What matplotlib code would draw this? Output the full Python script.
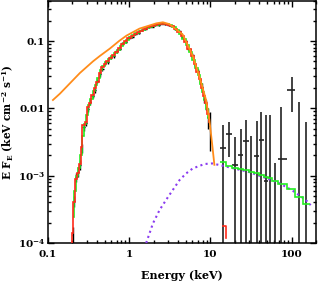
import numpy as np
import matplotlib
matplotlib.use('Agg')
import matplotlib.pyplot as plt
from matplotlib.ticker import FixedLocator, FixedFormatter, LogLocator, NullFormatter

plt.rcParams['font.family'] = ['DejaVu Serif']
plt.rcParams['font.weight'] = 'bold'
plt.rcParams['mathtext.fontset'] = 'dejavuserif'
plt.rcParams['mathtext.default'] = 'bf'

# ---------------- soft band (model, red) ----------------
soft_edges = [0.190, 0.196, 0.206, 0.216, 0.228, 0.240, 0.252, 0.266, 0.282, 0.300, 0.320,
              0.342, 0.366, 0.392, 0.420, 0.450, 0.485, 0.525, 0.57, 0.62, 0.675,
              0.735, 0.80, 0.87, 0.95, 1.04, 1.14, 1.25, 1.37, 1.50, 1.65,
              1.82, 2.0, 2.2, 2.42, 2.66, 2.93, 3.22, 3.54, 3.9, 4.3,
              4.74, 5.2, 5.7, 6.2, 6.7, 7.2, 7.7, 8.2, 8.7, 9.2, 9.6, 10.0]
red_model = [5e-5, 1.4e-4, 4.0e-4, 9.0e-4, 1.1e-3, 1.5e-3, 2.7e-3, 5.6e-3, 6.3e-3, 1.05e-2,
             1.2e-2, 1.6e-2, 2.0e-2, 2.5e-2, 3.3e-2, 4.1e-2, 4.5e-2, 5.1e-2, 5.6e-2, 6.2e-2,
             6.9e-2, 7.9e-2, 9.0e-2, 0.099, 0.110, 0.118, 0.126, 0.135, 0.143, 0.151,
             0.159, 0.166, 0.172, 0.177, 0.180, 0.180, 0.175, 0.166, 0.153, 0.137,
             0.118, 0.097, 0.077, 0.060, 0.046, 0.035, 0.027, 0.020, 0.015, 0.012,
             0.0082, 0.0062]

# soft band data (black crosses), one per model bin (except first)
soft_data = [1.3e-4, 4.2e-4, 9.5e-4, 1.15e-3, 1.45e-3, 2.6e-3, 5.2e-3, 6.0e-3, 9.8e-3,
             1.25e-2, 1.55e-2, 1.85e-2, 2.55e-2, 3.2e-2, 3.9e-2, 4.7e-2, 4.9e-2, 5.7e-2,
             6.0e-2, 7.1e-2, 7.7e-2, 9.2e-2, 0.097, 0.112, 0.116, 0.128, 0.133, 0.145,
             0.149, 0.161, 0.164, 0.174, 0.175, 0.182, 0.177, 0.172, 0.168, 0.150,
             0.139, 0.115, 0.099, 0.075, 0.062, 0.044, 0.036, 0.026, 0.021, 0.014,
             0.0115, 0.0075, 0.0055]
soft_err = [4e-5, 8e-5, 1.5e-4, 2e-4, 2.5e-4, 4e-4, 6e-4, 6e-4, 1.0e-3,
            1.2e-3, 1.3e-3, 1.5e-3, 2e-3, 2.5e-3, 3e-3, 3e-3, 3e-3, 3.5e-3,
            3.5e-3, 4e-3, 4e-3, 4.5e-3, 5e-3, 5e-3, 5e-3, 5e-3, 5e-3, 5e-3,
            5e-3, 5e-3, 5e-3, 5e-3, 5e-3, 5e-3, 5e-3, 5e-3, 5e-3, 5e-3,
            5e-3, 5e-3, 5e-3, 4e-3, 4e-3, 3e-3, 3e-3, 2.5e-3, 2.5e-3, 2e-3,
            2e-3, 2.5e-3, 3.2e-3]

# second soft model (green), offset binning
green_soft_edges = [0.201, 0.211, 0.222, 0.234, 0.246, 0.259, 0.274, 0.291, 0.310, 0.331,
                    0.354, 0.379, 0.406, 0.435, 0.467, 0.505, 0.547, 0.595, 0.647, 0.705,
                    0.767, 0.835, 0.91, 0.995, 1.09, 1.195, 1.31, 1.435, 1.575, 1.735,
                    1.91, 2.1, 2.31, 2.54, 2.795, 3.075, 3.38, 3.72, 4.1, 4.52,
                    4.97, 5.45, 5.95, 6.45, 6.95, 7.45, 7.95, 8.45, 8.95, 9.4, 9.8]
green_soft = [2.4e-4, 6.0e-4, 1.0e-3, 1.3e-3, 2.0e-3, 3.9e-3, 5.9e-3, 8.1e-3, 1.12e-2, 1.39e-2,
              1.79e-2, 2.24e-2, 2.87e-2, 3.68e-2, 4.3e-2, 4.8e-2, 5.35e-2, 5.9e-2, 6.55e-2, 7.4e-2,
              8.45e-2, 9.45e-2, 0.104, 0.114, 0.122, 0.130, 0.139, 0.147, 0.155, 0.162,
              0.169, 0.175, 0.179, 0.180, 0.178, 0.171, 0.160, 0.145, 0.127, 0.107,
              0.086, 0.068, 0.0525, 0.040, 0.031, 0.0232, 0.0173, 0.0134, 0.0099, 0.0071]

# ---------------- hard band ----------------
hard_edges = [13.2, 15.6, 18.6, 22.0, 25.5, 29.6, 34.4, 39.7, 45.3, 51.0, 58.0,
              68.3, 86.8, 111.5, 137.0, 170.0]
hard_e = [14.2, 17.1, 20.3, 23.8, 27.4, 31.9, 37.0, 42.6, 48.2, 54.0, 62.2,
          75.0, 100.5, 123.6, 152.0]
hard_val = [2.55e-3, 4.15e-3, 1.44e-3, 2.02e-3, 3.3e-3, np.nan, 1.96e-3, 3.38e-3,
            8.3e-4, np.nan, np.nan, 1.75e-3, 1.87e-2, np.nan, np.nan]
hard_hi = [5.65e-3, 6.32e-3, 3.79e-3, 4.92e-3, 6.7e-3, 3.88e-3, 6.55e-3, 8.9e-3,
           7.95e-3, 7.95e-3, 1.56e-3, 1.04e-2, 2.95e-2, 1.25e-2, 6.32e-3]
hard_lo = [1e-6, 1.91e-3, 1e-6, 1e-6, 1e-6, 1e-6, 1e-6, 1e-6,
           1e-6, 1e-6, 1e-6, 1e-6, 8.9e-3, 1e-6, 1e-6]
green_hard = [1.57e-3, 1.40e-3, 1.32e-3, 1.27e-3, 1.21e-3, 1.15e-3, 1.09e-3, 1.03e-3,
              9.7e-4, 9.1e-4, 8.4e-4, 7.4e-4, 6.4e-4, 4.8e-4, 3.75e-4]
red_hard_e = [14.2, 15.4, 15.4]
red_hard_f = [1.78e-4, 1.78e-4, 1.17e-4]

# ---------------- model components ----------------
disk_e = [0.115, 0.14, 0.247, 0.359, 0.435, 0.576, 0.75, 0.924, 1.34, 2.16, 2.6,
          3.13, 4.56, 6.07, 7.3, 8.82, 9.72, 10.6, 11.2]
disk_f = [0.0133, 0.0165, 0.0335, 0.05, 0.06, 0.077, 0.1, 0.12, 0.153, 0.183, 0.19,
          0.178, 0.125, 0.06, 0.03, 0.0135, 0.0068, 0.0027, 0.00145]
pl_e = [1.62, 1.96, 2.37, 3.0, 4.17, 5.03, 6.06, 8.44, 10.5, 13.6, 18.6, 30.0,
        48.7, 70.0, 101.0, 150.0, 172.0]
pl_f = [1.0e-4, 1.95e-4, 3.1e-4, 4.8e-4, 8.6e-4, 1.08e-3, 1.28e-3, 1.49e-3, 1.52e-3,
        1.42e-3, 1.3e-3, 1.13e-3, 9.2e-4, 7.76e-4, 6.1e-4, 4.35e-4, 3.65e-4]

fig = plt.figure(figsize=(3.19, 2.87), dpi=100)
ax = fig.add_axes([48 / 319, 1 - 243 / 287, 268 / 319, 242.5 / 287])
ax.set_xscale('log')
ax.set_yscale('log')
ax.set_xlim(0.1, 200)
ax.set_ylim(1e-4, 0.4)

# soft data
se = np.array(soft_edges)
sc = np.sqrt(se[1:-1] * se[2:])
ax.errorbar(sc, soft_data, yerr=soft_err,
            xerr=[sc - se[1:-1], se[2:] - sc], fmt='none', ecolor='black',
            elinewidth=1.0, capsize=0, zorder=2)

# hard data
he = np.array(hard_edges)
ax.vlines(hard_e, hard_lo, hard_hi, color='#222222', lw=1.2, zorder=2)
ax.hlines(hard_val, he[:-1], he[1:], color='#222222', lw=1.2, zorder=2)

# models
ax.stairs(green_soft, green_soft_edges, baseline=None, color='#22ee22', lw=1.2, zorder=3)
ax.stairs(red_model, soft_edges, baseline=None, color='#ff2a1a', lw=1.2, zorder=4)
ax.stairs(green_hard, hard_edges, baseline=None, color='#22ee22', lw=1.2, zorder=4)
ax.plot(red_hard_e, red_hard_f, color='#ff2a1a', lw=1.2, zorder=4)
ax.plot(disk_e, disk_f, color='#ff8c1a', lw=1.3, zorder=5)
ax.plot(pl_e, pl_f, color='#8a3cf0', lw=1.5, ls=(0, (1, 1.6)), zorder=3)

# ticks
ax.xaxis.set_major_locator(FixedLocator([0.1, 1, 10, 100]))
ax.xaxis.set_major_formatter(FixedFormatter(['0.1', '1', '10', '100']))
ax.xaxis.set_minor_locator(LogLocator(base=10, subs=np.arange(2, 10)))
ax.xaxis.set_minor_formatter(NullFormatter())
ax.yaxis.set_major_locator(FixedLocator([1e-4, 1e-3, 0.01, 0.1]))
ax.yaxis.set_major_formatter(FixedFormatter([r'$10^{-4}$', r'$10^{-3}$', '0.01', '0.1']))
ax.yaxis.set_minor_locator(LogLocator(base=10, subs=np.arange(2, 10)))
ax.yaxis.set_minor_formatter(NullFormatter())
ax.tick_params(which='both', direction='in', top=True, right=True, width=1.0,
               labelsize=7.5, colors='black')
ax.tick_params(which='major', length=4.5)
ax.tick_params(axis='x', which='major', pad=5)
ax.tick_params(axis='y', which='major', pad=2)
ax.tick_params(which='minor', length=2.3)
for lab in ax.get_xticklabels() + ax.get_yticklabels():
    lab.set_fontweight('bold')
for s in ax.spines.values():
    s.set_linewidth(1.1)

ax.set_xlabel('Energy (keV)', fontsize=8, fontweight='bold', labelpad=8)
ax.set_ylabel(r'E F$_{\rm E}$ (keV cm$^{-2}$ s$^{-1}$)', fontsize=7.6, fontweight='bold')
ax.yaxis.set_label_coords(-0.118, 0.5)

fig.savefig('out.png', dpi=100)
